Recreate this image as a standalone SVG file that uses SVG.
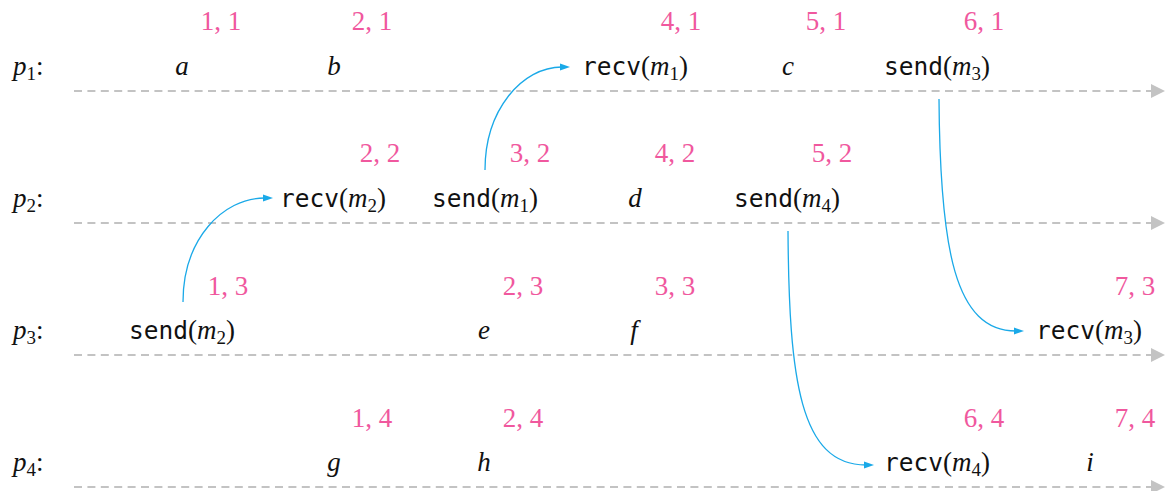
<svg xmlns="http://www.w3.org/2000/svg" width="1167" height="491" viewBox="0 0 1167 491">
<g id="timelines" stroke="#c3c3c3" stroke-width="2" stroke-dasharray="8 5.4" fill="none">
<path d="M74,91 H1152"/>
<path d="M74,223 H1152"/>
<path d="M74,355 H1152"/>
<path d="M74,487 H1152"/>
</g>
<g id="timeline-heads" fill="#c3c3c3">
<path d="M1151,84 L1165,91 L1151,98 Z"/>
<path d="M1151,216 L1165,223 L1151,230 Z"/>
<path d="M1151,348 L1165,355 L1151,362 Z"/>
<path d="M1151,480 L1165,487 L1151,494 Z"/>
</g>
<g id="process-labels">
<text x="13" y="75" font-family="Liberation Serif" font-size="27" fill="#111"><tspan font-style="italic">p</tspan><tspan font-size="19" dy="5">1</tspan><tspan dy="-5">:</tspan></text>
<text x="13" y="207" font-family="Liberation Serif" font-size="27" fill="#111"><tspan font-style="italic">p</tspan><tspan font-size="19" dy="5">2</tspan><tspan dy="-5">:</tspan></text>
<text x="13" y="339" font-family="Liberation Serif" font-size="27" fill="#111"><tspan font-style="italic">p</tspan><tspan font-size="19" dy="5">3</tspan><tspan dy="-5">:</tspan></text>
<text x="13" y="471" font-family="Liberation Serif" font-size="27" fill="#111"><tspan font-style="italic">p</tspan><tspan font-size="19" dy="5">4</tspan><tspan dy="-5">:</tspan></text>
</g>
<g id="p1-events">
<g id="ev-a"><text x="182" y="75" font-family="Liberation Serif" font-size="27" font-style="italic" text-anchor="middle" fill="#111">a</text><text x="221" y="30" font-family="Liberation Serif" font-size="27" text-anchor="middle" fill="#f0589e">1, 1</text></g>
<g id="ev-b"><text x="334" y="75" font-family="Liberation Serif" font-size="27" font-style="italic" text-anchor="middle" fill="#111">b</text><text x="372" y="30" font-family="Liberation Serif" font-size="27" text-anchor="middle" fill="#f0589e">2, 1</text></g>
<g id="ev-recv-m1"><text x="635" y="75" font-family="Liberation Serif" font-size="27" text-anchor="middle" fill="#111"><tspan font-family="monospace" font-size="24.5">recv</tspan>(<tspan font-style="italic">m</tspan><tspan font-size="19" dy="5">1</tspan><tspan dy="-5">)</tspan></text><text x="681" y="30" font-family="Liberation Serif" font-size="27" text-anchor="middle" fill="#f0589e">4, 1</text></g>
<g id="ev-c"><text x="788" y="75" font-family="Liberation Serif" font-size="27" font-style="italic" text-anchor="middle" fill="#111">c</text><text x="826" y="30" font-family="Liberation Serif" font-size="27" text-anchor="middle" fill="#f0589e">5, 1</text></g>
<g id="ev-send-m3"><text x="937" y="75" font-family="Liberation Serif" font-size="27" text-anchor="middle" fill="#111"><tspan font-family="monospace" font-size="24.5">send</tspan>(<tspan font-style="italic">m</tspan><tspan font-size="19" dy="5">3</tspan><tspan dy="-5">)</tspan></text><text x="984" y="30" font-family="Liberation Serif" font-size="27" text-anchor="middle" fill="#f0589e">6, 1</text></g>
</g>
<g id="p2-events">
<g id="ev-recv-m2"><text x="333" y="207" font-family="Liberation Serif" font-size="27" text-anchor="middle" fill="#111"><tspan font-family="monospace" font-size="24.5">recv</tspan>(<tspan font-style="italic">m</tspan><tspan font-size="19" dy="5">2</tspan><tspan dy="-5">)</tspan></text><text x="380" y="162" font-family="Liberation Serif" font-size="27" text-anchor="middle" fill="#f0589e">2, 2</text></g>
<g id="ev-send-m1"><text x="485" y="207" font-family="Liberation Serif" font-size="27" text-anchor="middle" fill="#111"><tspan font-family="monospace" font-size="24.5">send</tspan>(<tspan font-style="italic">m</tspan><tspan font-size="19" dy="5">1</tspan><tspan dy="-5">)</tspan></text><text x="530" y="162" font-family="Liberation Serif" font-size="27" text-anchor="middle" fill="#f0589e">3, 2</text></g>
<g id="ev-d"><text x="635" y="207" font-family="Liberation Serif" font-size="27" font-style="italic" text-anchor="middle" fill="#111">d</text><text x="675" y="162" font-family="Liberation Serif" font-size="27" text-anchor="middle" fill="#f0589e">4, 2</text></g>
<g id="ev-send-m4"><text x="787" y="207" font-family="Liberation Serif" font-size="27" text-anchor="middle" fill="#111"><tspan font-family="monospace" font-size="24.5">send</tspan>(<tspan font-style="italic">m</tspan><tspan font-size="19" dy="5">4</tspan><tspan dy="-5">)</tspan></text><text x="832" y="162" font-family="Liberation Serif" font-size="27" text-anchor="middle" fill="#f0589e">5, 2</text></g>
</g>
<g id="p3-events">
<g id="ev-send-m2"><text x="182" y="339" font-family="Liberation Serif" font-size="27" text-anchor="middle" fill="#111"><tspan font-family="monospace" font-size="24.5">send</tspan>(<tspan font-style="italic">m</tspan><tspan font-size="19" dy="5">2</tspan><tspan dy="-5">)</tspan></text><text x="228" y="295" font-family="Liberation Serif" font-size="27" text-anchor="middle" fill="#f0589e">1, 3</text></g>
<g id="ev-e"><text x="484" y="339" font-family="Liberation Serif" font-size="27" font-style="italic" text-anchor="middle" fill="#111">e</text><text x="523" y="295" font-family="Liberation Serif" font-size="27" text-anchor="middle" fill="#f0589e">2, 3</text></g>
<g id="ev-f"><text x="634" y="339" font-family="Liberation Serif" font-size="27" font-style="italic" text-anchor="middle" fill="#111">f</text><text x="675" y="295" font-family="Liberation Serif" font-size="27" text-anchor="middle" fill="#f0589e">3, 3</text></g>
<g id="ev-recv-m3"><text x="1089" y="339" font-family="Liberation Serif" font-size="27" text-anchor="middle" fill="#111"><tspan font-family="monospace" font-size="24.5">recv</tspan>(<tspan font-style="italic">m</tspan><tspan font-size="19" dy="5">3</tspan><tspan dy="-5">)</tspan></text><text x="1135" y="295" font-family="Liberation Serif" font-size="27" text-anchor="middle" fill="#f0589e">7, 3</text></g>
</g>
<g id="p4-events">
<g id="ev-g"><text x="334" y="471" font-family="Liberation Serif" font-size="27" font-style="italic" text-anchor="middle" fill="#111">g</text><text x="372" y="427" font-family="Liberation Serif" font-size="27" text-anchor="middle" fill="#f0589e">1, 4</text></g>
<g id="ev-h"><text x="484" y="471" font-family="Liberation Serif" font-size="27" font-style="italic" text-anchor="middle" fill="#111">h</text><text x="523" y="427" font-family="Liberation Serif" font-size="27" text-anchor="middle" fill="#f0589e">2, 4</text></g>
<g id="ev-recv-m4"><text x="937" y="471" font-family="Liberation Serif" font-size="27" text-anchor="middle" fill="#111"><tspan font-family="monospace" font-size="24.5">recv</tspan>(<tspan font-style="italic">m</tspan><tspan font-size="19" dy="5">4</tspan><tspan dy="-5">)</tspan></text><text x="984" y="427" font-family="Liberation Serif" font-size="27" text-anchor="middle" fill="#f0589e">6, 4</text></g>
<g id="ev-i"><text x="1090" y="471" font-family="Liberation Serif" font-size="27" font-style="italic" text-anchor="middle" fill="#111">i</text><text x="1135" y="427" font-family="Liberation Serif" font-size="27" text-anchor="middle" fill="#f0589e">7, 4</text></g>
</g>
<g id="connectors">
<g stroke="#1aa9e8" stroke-width="1.3" fill="none">
<path d="M183,302 C183,240 222,198 265,198"/>
<path d="M485,170 C485,110 522,67 562,67"/>
<path d="M939,99 C940,250 955,331 1016,331"/>
<path d="M788,231 C789,380 800,465 866,465"/>
</g>
<g fill="#1aa9e8">
<path d="M263,194.5 L273,198 L263,201.5 Z"/>
<path d="M560,63.5 L570,67 L560,70.5 Z"/>
<path d="M1014,327.5 L1024,331 L1014,334.5 Z"/>
<path d="M864,461.5 L874,465 L864,468.5 Z"/>
</g>
</g>
</svg>
